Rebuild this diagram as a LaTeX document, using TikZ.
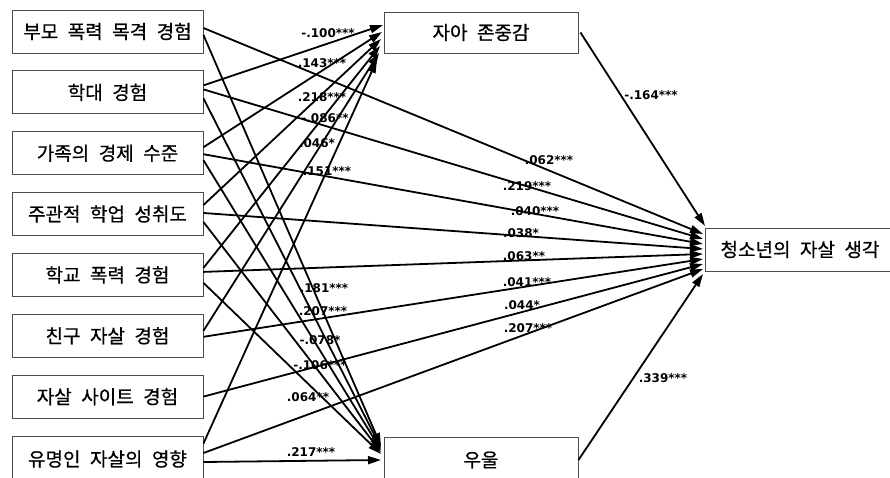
\documentclass[tikz,border=0pt]{standalone}
\usepackage{fontspec}
\usetikzlibrary{arrows.meta}
\newfontfamily\krfont[FakeBold=0.6]{Noto Sans CJK KR}
\newfontfamily\numfont{DejaVu Sans}
\newcommand{\krtext}{\krfont\fontsize{19}{22}\selectfont\spaceskip=0.5em\relax}
\begin{document}
\begin{tikzpicture}[x=1pt,y=-1pt,
  box/.style={draw=black!70, line width=0.9pt, minimum height=43pt, inner sep=0pt, font=\krtext},
  lbox/.style={box, minimum width=191pt},
  conn/.style={line width=1.8pt, -{Triangle[length=13pt,width=8pt]}},
  lab/.style={font=\numfont\bfseries\fontsize{12}{14}\selectfont, inner sep=0pt}]
\useasboundingbox (0,0) rectangle (890,478);
% left boxes
\node[lbox] (b1) at (107.5,31.5) {부모 폭력 목격 경험};
\node[lbox] (b2) at (107.5,92.4) {학대 경험};
\node[lbox] (b3) at (107.5,153.2) {가족의 경제 수준};
\node[lbox] (b4) at (107.5,214) {주관적 학업 성취도};
\node[lbox] (b5) at (107.5,274.9) {학교 폭력 경험};
\node[lbox] (b6) at (107.5,335.8) {친구 자살 경험};
\node[lbox] (b7) at (107.5,396.6) {자살 사이트 경험};
\node[lbox, minimum height=46pt] (b8) at (107.5,459) {유명인 자살의 영향};
% mediators and outcome
\node[box, minimum width=194pt, minimum height=41pt] (se) at (481,32.5) {자아 존중감};
\node[box, minimum width=194pt, minimum height=46pt] (dep) at (481,460) {우울};
\node[box, minimum width=190pt] (out) at (800,249.5) {청소년의 자살 생각};
% arrow tips
\coordinate (se2) at (383,25);
\coordinate (se3) at (382,32);
\coordinate (se4) at (381,39);
\coordinate (se5) at (380,46);
\coordinate (se6) at (379,53);
\coordinate (se8) at (377,60);
\coordinate (d1) at (381,446);
\coordinate (d2) at (381,448);
\coordinate (d3) at (381,450);
\coordinate (d4) at (381,452);
\coordinate (d5) at (381,454);
\coordinate (d8) at (381,460);
\coordinate (o1) at (703,234);
\coordinate (o2) at (703,239);
\coordinate (o3) at (703,244);
\coordinate (o4) at (703,249);
\coordinate (o5) at (703,254);
\coordinate (o6) at (703,259);
\coordinate (o7) at (703,264);
\coordinate (o8) at (703,269);
\coordinate (ose) at (705,226);
\coordinate (odep) at (703,274);
% to self-esteem
\draw[conn] ([yshift=7pt]b2.east) -- (se2);
\draw[conn] ([yshift=6pt]b3.east) -- (se3);
\draw[conn] ([yshift=9pt]b4.east) -- (se4);
\draw[conn] ([yshift=7pt]b5.east) -- (se5);
\draw[conn] ([yshift=5pt]b6.east) -- (se6);
\draw[conn] ([yshift=15.5pt]b8.east) -- (se8);
% to depression
\draw[conn] ([yshift=-3.5pt]b1.east) -- (d1);
\draw[conn] ([yshift=-6pt]b2.east) -- (d2);
\draw[conn] ([yshift=-7pt]b3.east) -- (d3);
\draw[conn] ([yshift=-8pt]b4.east) -- (d4);
\draw[conn] ([yshift=-8pt]b5.east) -- (d5);
\draw[conn] ([yshift=-3pt]b8.east) -- (d8);
% to outcome
\draw[conn] ([yshift=3.5pt]b1.east) -- (o1);
\draw[conn] ([yshift=3pt]b2.east) -- (o2);
\draw[conn] ([yshift=-1pt]b3.east) -- (o3);
\draw[conn] ([yshift=1pt]b4.east) -- (o4);
\draw[conn] ([yshift=3pt]b5.east) -- (o5);
\draw[conn] ([yshift=-1pt]b6.east) -- (o6);
\draw[conn] (b7.east) -- (o7);
\draw[conn] ([yshift=6pt]b8.east) -- (o8);
\draw[conn] ([xshift=2pt]se.east) -- (ose);
\draw[conn] (dep.east) -- (odep);
% labels: self-esteem
\node[lab] (l1) at (328,33) {-.100***};
\node[lab] (l2) at (322,63) {.143***};
\node[lab] (l3) at (322,97) {.218***};
\node[lab] (l4) at (325,118) {-.086**};
\node[lab] (l5) at (317,143) {.046*};
\node[lab] (l6) at (327,171) {.151***};
% labels: depression
\node[lab] (l7) at (324,288) {.181***};
\node[lab] (l8) at (323,311) {.207***};
\node[lab] (l9) at (320,340) {-.078*};
\node[lab] (l10) at (320,365) {-.106***};
\node[lab] (l11) at (308,397) {.064**};
\node[lab] (l12) at (311,452) {.217***};
% labels: outcome
\node[lab] (l13) at (549,160) {.062***};
\node[lab] (l14) at (527,186) {.219***};
\node[lab] (l15) at (535,211) {.040***};
\node[lab] (l16) at (521,233) {.038*};
\node[lab] (l17) at (524,256) {.063**};
\node[lab] (l18) at (527,282) {.041***};
\node[lab] (l19) at (522,305) {.044*};
\node[lab] (l20) at (528,328) {.207***};
\node[lab] (l21) at (651,95) {-.164***};
\node[lab] (l22) at (663,378) {.339***};
\end{tikzpicture}
\end{document}
